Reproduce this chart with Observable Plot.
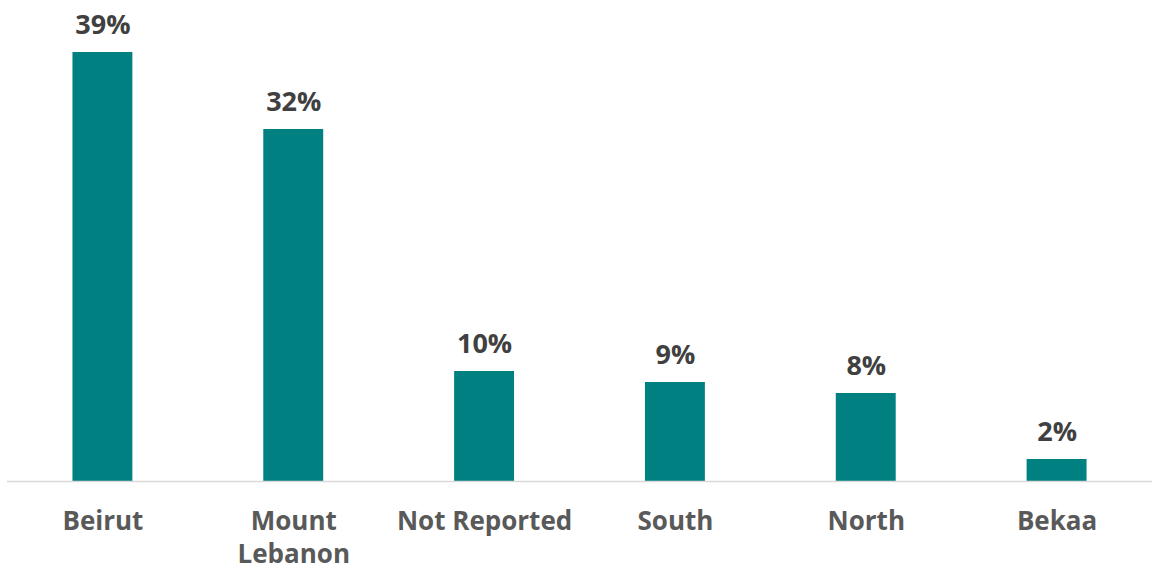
<!DOCTYPE html>
<html>
<head>
<meta charset="utf-8">
<script src="https://cdn.jsdelivr.net/npm/d3@7"></script>
<script src="https://cdn.jsdelivr.net/npm/@observablehq/plot@0.6"></script>
<style>
  html, body { margin: 0; padding: 0; background: #fff; }
  #chart svg { display: block; }
</style>
</head>
<body>
<div id="chart"></div>
<script>
const categories = ["Beirut", "Mount Lebanon", "Not Reported", "South", "North", "Bekaa"];
const values = [39, 32, 10, 9, 8, 2];
const labels = ["39%", "32%", "10%", "9%", "8%", "2%"];

const data = categories.map((c, i) => ({category: c, value: values[i], label: labels[i]}));

const font = "'Open Sans', sans-serif";

const chart = Plot.plot({
  width: 1152,
  height: 576,
  marginLeft: 7,
  marginRight: 0,
  marginTop: 52,
  marginBottom: 95,
  style: {fontFamily: font, background: "#fff"},
  x: {domain: categories, paddingInner: 0.686, paddingOuter: 0.343, round: false, axis: null},
  y: {domain: [0, 39], axis: null},
  marks: [
    Plot.barY(data, {x: "category", y: "value", fill: "#008080"}),
    Plot.ruleY([0], {stroke: "#d9d9d9", strokeWidth: 1.5}),
    Plot.text(data, {x: "category", y: "value", text: "label", lineAnchor: "bottom", dy: -19,
      fontSize: 27, fontWeight: "bold", fill: "#404040"}),
    Plot.axisX({tickSize: 0, tickPadding: 24, fontSize: 26, fontWeight: "bold", fill: "#595959",
      lineHeight: 1.3, tickFormat: d => d === "Mount Lebanon" ? "Mount\nLebanon" : d, label: null})
  ]
});
document.getElementById("chart").append(chart);
</script>
</body>
</html>
